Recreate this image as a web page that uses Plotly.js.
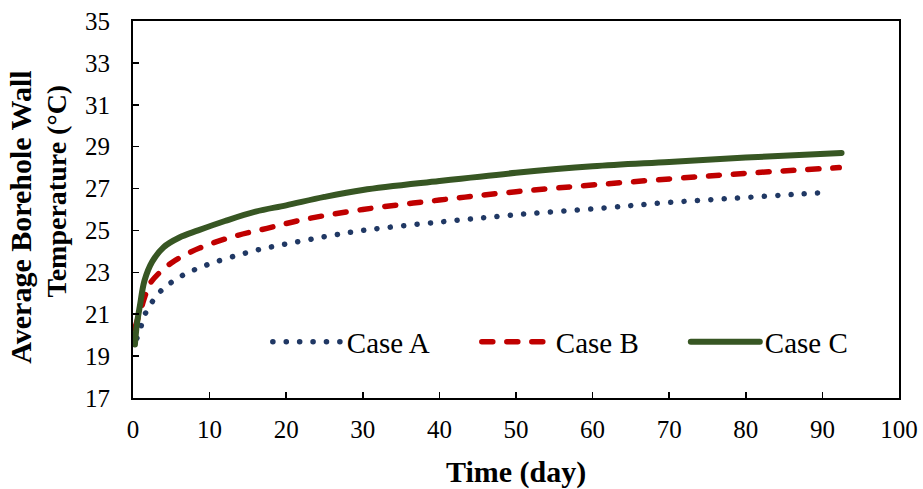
<!DOCTYPE html>
<html>
<head>
<meta charset="utf-8">
<script src="https://cdn.plot.ly/plotly-3.0.1.min.js"></script>
<style>
html,body{margin:0;padding:0;background:#fff;}
#chart{width:923px;height:489px;}
.scatterlayer path.js-line, .legendlines path.js-line { stroke-linecap: round; }
</style>
</head>
<body>
<div id="chart"></div>
<script>
// Data
const seriesNames = ["Case A", "Case B", "Case C"];

const daysA = [0.5, 0.9, 1.3, 2.1, 3.1, 4.3, 5.7, 7.05, 8.6, 10.2, 13.3, 16.6, 19.8, 25, 30, 40, 50, 61, 69.7, 78.5, 87.2, 90.7];
const tempA = [19.85, 20.17, 20.77, 21.36, 21.88, 22.35, 22.67, 22.98, 23.2, 23.43, 23.78, 24.1, 24.34, 24.7, 25.0, 25.4, 25.75, 26.06, 26.33, 26.54, 26.74, 26.82];

const daysB = [0.2, 0.6, 1.0, 1.6, 2.2, 3.5, 5, 6.1, 8.7, 13, 17.5, 22, 30, 40, 50, 61, 74, 83, 92.2];
const tempB = [20.3, 20.75, 21.2, 21.9, 22.45, 23.0, 23.45, 23.7, 24.16, 24.7, 25.1, 25.5, 26.0, 26.45, 26.85, 27.2, 27.57, 27.8, 28.0];

const daysC = [0.25, 0.5, 0.9, 1.5, 2.5, 4, 6, 8.5, 12, 16, 20, 25, 30, 40, 50, 60, 70, 80, 92.5];
const tempC = [19.55, 20.5, 21.4, 22.6, 23.5, 24.2, 24.65, 25.0, 25.45, 25.9, 26.2, 26.6, 26.93, 27.36, 27.75, 28.06, 28.27, 28.48, 28.70];

const xTicks = [0, 10, 20, 30, 40, 50, 60, 70, 80, 90, 100];
const yTicks = [17, 19, 21, 23, 25, 27, 29, 31, 33, 35];

const xTitle = "Time (day)";
const yTitleLines = ["Average Borehole Wall", "Temperature (°C)"];

const FONT = "Liberation Serif, Times New Roman, serif";

const traces = [
  {x: daysA, y: tempA, name: seriesNames[0], mode: "lines",
   line: {color: "#203864", width: 5.5, dash: "0.1px,13.3px", shape: "spline"}},
  {x: daysB, y: tempB, name: seriesNames[1], mode: "lines",
   line: {color: "#C00000", width: 5.5, dash: "11px,14px", shape: "spline"}},
  {x: daysC, y: tempC, name: seriesNames[2], mode: "lines",
   line: {color: "#375623", width: 6, shape: "spline"}}
];

const titleFont = {family: FONT, size: 30, color: "#000"};

const layout = {
  width: 923, height: 489,
  margin: {l: 133, r: 24, t: 21, b: 91},
  paper_bgcolor: "#fff", plot_bgcolor: "#fff",
  font: {family: FONT, color: "#000", size: 25},
  showlegend: true,
  legend: {
    orientation: "h", x: 0.176, y: 0.1485, xanchor: "left", yanchor: "middle",
    font: {family: FONT, size: 29, color: "#000"},
    itemwidth: 69, entrywidth: 125, entrywidthmode: "pixels",
    bgcolor: "rgba(0,0,0,0)"
  },
  xaxis: {
    range: [0, 100], tickvals: xTicks, ticktext: xTicks.map(String),
    ticks: "inside", ticklen: 6, tickwidth: 1.5, tickcolor: "#000",
    showline: true, linecolor: "#000", linewidth: 2, mirror: true,
    showgrid: false, zeroline: false, ticklabelstandoff: 8,
    tickfont: {family: FONT, size: 25, color: "#000"}
  },
  yaxis: {
    range: [17, 35], tickvals: yTicks, ticktext: yTicks.map(String),
    ticks: "inside", ticklen: 6, tickwidth: 1.5, tickcolor: "#000",
    showline: true, linecolor: "#000", linewidth: 2, mirror: true,
    showgrid: false, zeroline: false, ticklabelstandoff: 16,
    tickfont: {family: FONT, size: 25, color: "#000"}
  },
  annotations: [
    {text: "<b>" + xTitle + "</b>", xref: "paper", yref: "paper", x: 0.5, y: -0.196,
     xanchor: "center", yanchor: "middle", showarrow: false, font: titleFont},
    {text: "<b>" + yTitleLines[0] + "</b>", xref: "paper", yref: "paper", x: -0.148, y: 0.48,
     xanchor: "center", yanchor: "middle", textangle: -90, showarrow: false, font: titleFont},
    {text: "<b>" + yTitleLines[1] + "</b>", xref: "paper", yref: "paper", x: -0.1005, y: 0.548,
     xanchor: "center", yanchor: "middle", textangle: -90, showarrow: false,
     font: {family: FONT, size: 28, color: "#000"}}
  ]
};

Plotly.newPlot("chart", traces, layout, {displayModeBar: false, staticPlot: true});
</script>
</body>
</html>
